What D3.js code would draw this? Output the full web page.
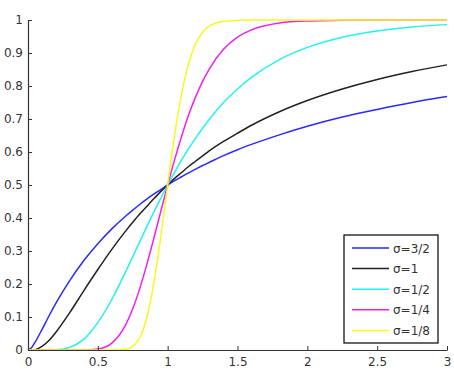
<!DOCTYPE html>
<html>
<head>
<meta charset="utf-8">
<script src="https://cdn.jsdelivr.net/npm/d3@7"></script>
<style>
  body { margin: 0; background: #fff; }
  text { font-family: "DejaVu Sans", Arial, sans-serif; }
</style>
</head>
<body>
<div id="chart"></div>
<script>
// sample positions along x
var xs = [0, 0.025, 0.05, 0.1, 0.15, 0.2, 0.3, 0.4, 0.5, 0.6, 0.7, 0.75, 0.8, 0.85, 0.9, 0.95, 1,
          1.05, 1.1, 1.15, 1.2, 1.25, 1.3, 1.4, 1.5, 1.6, 1.8, 2, 2.25, 2.5, 2.75, 3];

var s32  = [0, 0.007, 0.023, 0.062, 0.103, 0.142, 0.211, 0.271, 0.322, 0.367, 0.406, 0.424, 0.441, 0.457, 0.472, 0.486, 0.5,
            0.513, 0.525, 0.537, 0.548, 0.559, 0.569, 0.589, 0.607, 0.623, 0.652, 0.678, 0.706, 0.729, 0.750, 0.768];
var s1   = [0, 0.0001, 0.001, 0.011, 0.029, 0.054, 0.114, 0.180, 0.244, 0.305, 0.361, 0.387, 0.412, 0.435, 0.458, 0.480, 0.5,
            0.520, 0.538, 0.556, 0.572, 0.588, 0.604, 0.632, 0.657, 0.681, 0.722, 0.756, 0.791, 0.820, 0.844, 0.864];
var s12  = [0, 0, 0, 0, 0.0001, 0.0006, 0.008, 0.033, 0.083, 0.153, 0.238, 0.283, 0.328, 0.373, 0.417, 0.459, 0.5,
            0.539, 0.576, 0.610, 0.642, 0.672, 0.700, 0.750, 0.791, 0.826, 0.880, 0.917, 0.948, 0.967, 0.979, 0.986];
var s14  = [0, 0, 0, 0, 0, 0, 0, 0.0001, 0.003, 0.021, 0.077, 0.125, 0.186, 0.258, 0.337, 0.419, 0.5,
            0.577, 0.648, 0.712, 0.767, 0.814, 0.853, 0.911, 0.948, 0.970, 0.991, 0.997, 0.999, 1, 1, 1];
var s18  = [0, 0, 0, 0, 0, 0, 0, 0, 0, 0, 0.002, 0.011, 0.037, 0.097, 0.200, 0.341, 0.5,
            0.652, 0.777, 0.868, 0.928, 0.963, 0.982, 0.996, 0.999, 1, 1, 1, 1, 1, 1, 1];

var seriesNames = ["σ=3/2", "σ=1", "σ=1/2", "σ=1/4", "σ=1/8"];
var seriesColors = ["#2a2aff", "#222222", "#22f2f2", "#f020f0", "#f8f820"];
var seriesValues = [s32, s1, s12, s14, s18];

var xTicks = [0, 0.5, 1, 1.5, 2, 2.5, 3];
var yTicks = [0, 0.1, 0.2, 0.3, 0.4, 0.5, 0.6, 0.7, 0.8, 0.9, 1];

var width = 454, height = 384;
var margin = {top: 20, right: 7, bottom: 34, left: 28};

var svg = d3.select("#chart").append("svg")
    .attr("width", width)
    .attr("height", height);

var x = d3.scaleLinear().domain([0, 3]).range([margin.left, width - margin.right]);
var y = d3.scaleLinear().domain([0, 1]).range([height - margin.bottom, margin.top]);

// lines
var line = d3.line()
    .x(function(d) { return x(d[0]); })
    .y(function(d) { return y(d[1]); })
    .curve(d3.curveMonotoneX);

seriesValues.forEach(function(vals, i) {
    svg.append("path")
        .datum(xs.map(function(v, j) { return [v, vals[j]]; }))
        .attr("fill", "none")
        .attr("stroke", seriesColors[i])
        .attr("stroke-width", 1.5)
        .attr("d", line);
});

// axes (ticks inward)
var xAxis = svg.append("g")
    .attr("transform", "translate(0," + y(0) + ")")
    .call(d3.axisBottom(x).tickValues(xTicks).tickSizeInner(-4).tickSizeOuter(0).tickPadding(7)
        .tickFormat(d3.format("")));
var yAxis = svg.append("g")
    .attr("transform", "translate(" + x(0) + ",0)")
    .call(d3.axisLeft(y).tickValues(yTicks).tickSizeInner(-4).tickSizeOuter(0).tickPadding(5)
        .tickFormat(d3.format("")));

[xAxis, yAxis].forEach(function(g) {
    g.select(".domain").attr("stroke", "#333").attr("stroke-width", 1.2);
    g.selectAll(".tick line").attr("stroke", "#333");
    g.selectAll(".tick text")
        .attr("fill", "#333")
        .style("font-size", "12px")
        .style("font-family", "'DejaVu Sans', Arial, sans-serif");
});

// legend
var lg = svg.append("g").attr("transform", "translate(344,235)");
lg.append("rect")
    .attr("width", 94).attr("height", 108)
    .attr("fill", "#fff").attr("stroke", "#000").attr("stroke-width", 1.2);

seriesNames.forEach(function(name, i) {
    var yy = 13 + i * 20.6;
    lg.append("line")
        .attr("x1", 8).attr("x2", 45)
        .attr("y1", yy).attr("y2", yy)
        .attr("stroke", seriesColors[i]).attr("stroke-width", 1.5);
    lg.append("text")
        .attr("x", 49).attr("y", yy + 4.5)
        .attr("fill", "#333")
        .style("font-size", "12px")
        .text(name);
});
</script>
</body>
</html>
